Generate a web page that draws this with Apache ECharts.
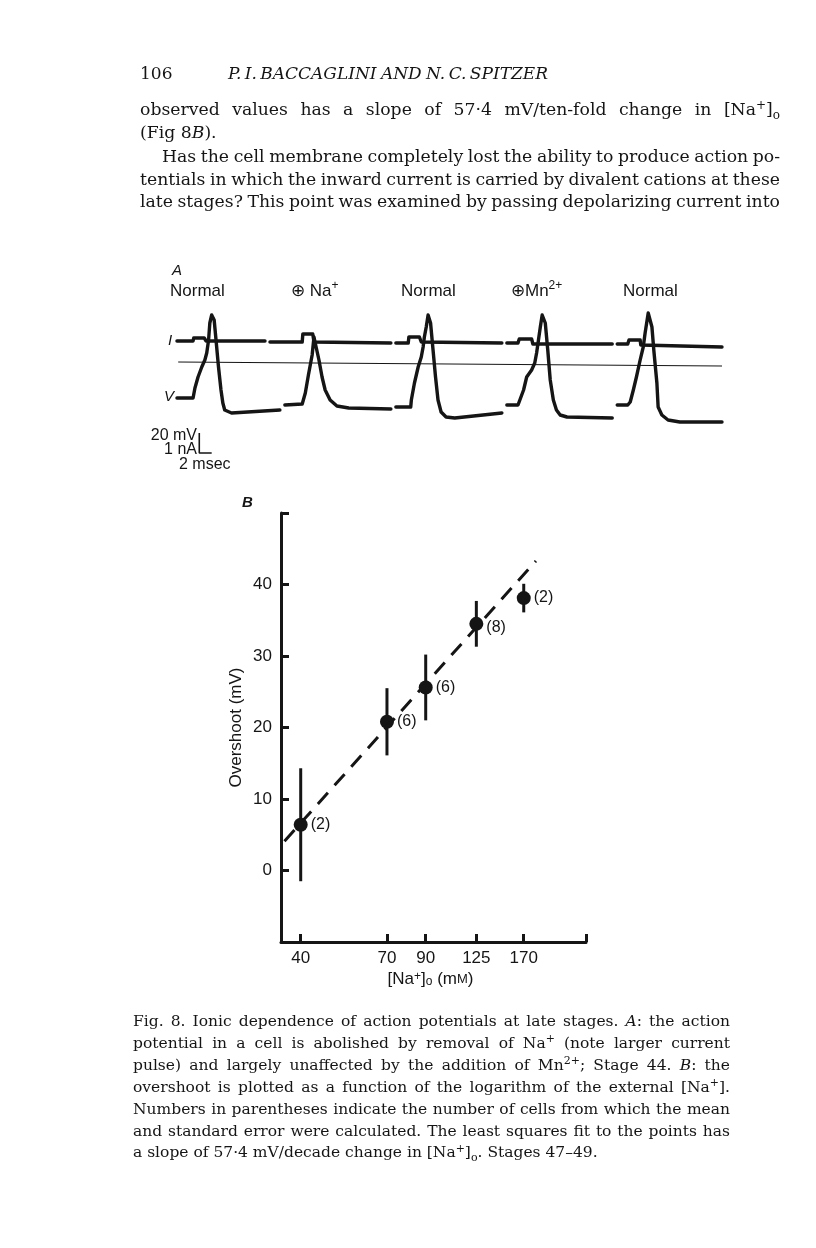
<!DOCTYPE html>
<html>
<head>
<meta charset="utf-8">
<script src="https://cdn.jsdelivr.net/npm/echarts@6/dist/echarts.min.js"></script>
<style>
  html, body { margin: 0; padding: 0; background: #fff; }
  #main { width: 816px; height: 1248px; }
</style>
</head>
<body>
<div id="main"></div>
<script>
// ---- panel B: overshoot vs external sodium ----
var naConc = [40, 70, 90, 125, 170];            // [Na+]o, mM
var overshoot = [6.4, 20.8, 25.6, 34.5, 38.1];  // mV, mean
var stdErr = [7.9, 4.7, 4.6, 3.2, 2.0];         // mV, s.e.
var nCells = [2, 6, 6, 8, 2];
var fitConc = [36, 184];                        // ends of the least squares line
var fitOvershoot = [4.1, 43.3];
var xTickConc = [40, 70, 90, 125, 170];
var yTickValues = [0, 10, 20, 30, 40];
var xRange = [35.2, 254.6];                     // mM, axis extent
var yRange = [-10, 50];

// ---- panel A: sweeps, [ms, mV] ----
var sweepLabels = ['Normal', '\u2295 Na{sup|+}', 'Normal', '\u2295Mn{sup|2+}', 'Normal'];
var currentTraces = [
  [[0.8, 21], [3.4, 21], [3.5, 24], [5.2, 24], [5.5, 21], [15.0, 21]],
  [[15.8, 20], [21.0, 20], [21.1, 28], [22.7, 28], [22.9, 20], [35.3, 19]],
  [[36.1, 19], [38.1, 19], [38.2, 25], [39.9, 25], [40.2, 20], [53.2, 19]],
  [[54.0, 19], [55.8, 19], [56.0, 23], [58.0, 23], [58.2, 18], [71.0, 18]],
  [[71.8, 18], [73.5, 18], [73.7, 22], [75.5, 22], [75.6, 17], [88.7, 15]]
];
var voltageTraces = [
  [[0.8, -36], [3.4, -36], [3.7, -26], [4.2, -15], [4.8, -5], [5.3, 2], [5.6, 9], [5.9, 22], [6.1, 39],
   [6.4, 47], [6.8, 42], [7.1, 22], [7.5, -5], [7.9, -28], [8.2, -41], [8.5, -48], [9.6, -51], [17.4, -48]],
  [[18.2, -43], [21.0, -42], [21.5, -31], [22.0, -13], [22.6, 7], [22.9, 25], [23.1, 19], [23.7, 2],
   [24.2, -15], [24.7, -28], [25.5, -38], [26.6, -44], [28.5, -46], [35.3, -47]],
  [[36.1, -45], [38.5, -45], [38.6, -38], [39.1, -21], [39.7, -5], [40.2, 5], [40.5, 15], [40.7, 25],
   [41.0, 35], [41.3, 47], [41.7, 39], [42.1, 12], [42.5, -15], [42.9, -38], [43.4, -50], [44.2, -55],
   [45.6, -56], [53.2, -51]],
  [[54.0, -43], [55.8, -43], [56.1, -41], [56.7, -28], [57.2, -15], [58.0, -8], [58.5, -1], [58.8, 9],
   [59.1, 22], [59.4, 35], [59.7, 47], [60.2, 39], [60.6, 12], [61.0, -18], [61.5, -38], [62.0, -48],
   [62.6, -53], [63.7, -55], [71.0, -56]],
  [[71.8, -43], [73.5, -43], [73.9, -40], [74.4, -28], [74.9, -15], [75.5, 2], [76.0, 15], [76.3, 29],
   [76.8, 49], [77.4, 35], [77.7, 12], [78.2, -21], [78.4, -45], [79.0, -53], [80.0, -58], [81.9, -60],
   [88.7, -60]]
];
var zeroLine = [[1.0, 0], [88.7, -4]];
var scaleBar = [[4.4, -71], [4.4, -91], [6.4, -91]];   // 20 mV / 2 msec

// ---- page text ----
var bodyLines = [
  'observed values has a slope of 57\u00b74 mV/ten-fold change in [Na{sup|+}]{sub|o}',
  '(Fig 8{it|B}).',
  'Has the cell membrane completely lost the ability to produce action po-',
  'tentials in which the inward current is carried by divalent cations at these',
  'late stages? This point was examined by passing depolarizing current into'
];
var captionLines = [
  'Fig. 8. Ionic dependence of action potentials at late stages. {it|A}: the action',
  'potential in a cell is abolished by removal of Na{sup|+} (note larger current',
  'pulse) and largely unaffected by the addition of Mn{sup|2+}; Stage 44. {it|B}: the',
  'overshoot is plotted as a function of the logarithm of the external [Na{sup|+}].',
  'Numbers in parentheses indicate the number of cells from which the mean',
  'and standard error were calculated. The least squares fit to the points has',
  'a slope of 57\u00b74 mV/decade change in [Na{sup|+}]{sub|o}. Stages 47\u201349.'
];

var INK = '#151515';
var SERIF = 'DejaVu Serif';
var SANS = 'Liberation Sans';

// text helpers: measure words, place them one by one so lines can be justified
var ctx = document.createElement('canvas').getContext('2d');
function parts(str) {
  var re = /\{(\w+)\|([^}]*)\}/g, out = [], last = 0, m;
  while ((m = re.exec(str))) {
    if (m.index > last) out.push(['', str.slice(last, m.index)]);
    out.push([m[1], m[2]]);
    last = re.lastIndex;
  }
  if (last < str.length) out.push(['', str.slice(last)]);
  return out;
}
function cssFont(kind, fs, family, o) {
  var small = kind === 'sup' || kind === 'sub';
  var it = o.italic || kind === 'it';
  return (it ? 'italic ' : '') + (o.bold ? 'bold ' : '') +
    (small ? Math.round(fs * 0.68) : fs) + 'px "' + family + '"';
}
function wordWidth(w, fs, family, o) {
  return parts(w).reduce(function (s, p) {
    ctx.font = cssFont(p[0], fs, family, o);
    return s + ctx.measureText(p[1]).width;
  }, 0);
}
function textEl(str, x, y, fs, family, o) {
  o = o || {};
  var s = Math.round(fs * 0.68), lh = Math.round(fs * 1.3);
  var fst = o.italic ? 'italic' : 'normal', fw = o.bold ? 'bold' : 'normal';
  return {
    type: 'text', x: x, y: y, z: 50,
    style: {
      text: str, fill: INK, fontSize: fs, fontFamily: family, fontStyle: fst, fontWeight: fw,
      lineHeight: lh, align: o.align || 'left', verticalAlign: 'middle',
      rich: {
        sup: { fontSize: s, lineHeight: s, verticalAlign: 'top', fontFamily: family, fontStyle: fst, fontWeight: fw, fill: INK },
        sub: { fontSize: s, lineHeight: s, verticalAlign: 'bottom', fontFamily: family, fontStyle: fst, fontWeight: fw, fill: INK },
        it: { fontSize: fs, lineHeight: lh, fontFamily: family, fontStyle: 'italic', fontWeight: fw, fill: INK }
      }
    }
  };
}
function typeset(str, left, y, width, fs, family, justify, o) {
  o = o || {};
  var words = str.split(' '), f = fs, widths, total;
  for (;;) {
    widths = words.map(function (w) { return wordWidth(w, f, family, o); });
    total = widths.reduce(function (a, b) { return a + b; }, 0);
    if (!justify || total + (words.length - 1) * f * 0.2 <= width || f < 8) break;
    f -= 0.25;
  }
  ctx.font = cssFont('', f, family, o);
  var gap = justify && words.length > 1 ? (width - total) / (words.length - 1) : ctx.measureText(' ').width;
  var x = left, els = [];
  words.forEach(function (w, i) {
    els.push(textEl(w, x, y, f, family, o));
    x += widths[i] + gap;
  });
  return els;
}

var texts = [];
texts.push(textEl('106', 140, 75, 17, SERIF));
texts = texts.concat(typeset('P.\u2009I.\u2009BACCAGLINI AND N.\u2009C.\u2009SPITZER', 228, 75, 320, 17.5, SERIF, true, { italic: true }));

var bodyY = [111, 134, 158, 181, 203];
var bodyLeft = [140, 140, 162, 140, 140];
bodyLines.forEach(function (l, i) {
  texts = texts.concat(typeset(l, bodyLeft[i], bodyY[i], 780 - bodyLeft[i], 17.25, SERIF, i !== 1));
});
captionLines.forEach(function (l, i) {
  texts = texts.concat(typeset(l, 133, 1022 + i * 21.9, 597, 15.5, SERIF, i !== captionLines.length - 1));
});

// panel A lettering
var sweepLabelX = [170, 291, 401, 511, 623];
texts.push(textEl('A', 172, 271, 15, SANS, { italic: true }));
sweepLabels.forEach(function (l, i) { texts.push(textEl(l, sweepLabelX[i], 291, 17, SANS)); });
texts.push(textEl('I', 168, 341, 15, SANS, { italic: true }));
texts.push(textEl('V', 164, 397, 15, SANS, { italic: true }));
texts.push(textEl('20 mV', 197, 436, 16, SANS, { align: 'right' }));
texts.push(textEl('1 nA', 197, 450, 16, SANS, { align: 'right' }));
texts.push(textEl('2 msec', 179, 465, 16, SANS));
texts.push(textEl('B', 242, 503, 15, SANS, { italic: true, bold: true }));

// ---- chart ----
var chart = echarts.init(document.getElementById('main'));
var lg = function (v) { return Math.log10(v); };

var traceSeries = [];
currentTraces.concat(voltageTraces).forEach(function (d) {
  traceSeries.push({
    type: 'line', xAxisIndex: 0, yAxisIndex: 0, data: d, symbol: 'none', silent: true,
    lineStyle: { color: INK, width: 3.4, join: 'round', cap: 'round' }
  });
});
traceSeries.push({
  type: 'line', xAxisIndex: 0, yAxisIndex: 0, data: zeroLine, symbol: 'none', silent: true,
  lineStyle: { color: INK, width: 1.2 }
});
traceSeries.push({
  type: 'line', xAxisIndex: 0, yAxisIndex: 0, data: scaleBar, symbol: 'none', silent: true,
  lineStyle: { color: INK, width: 1.6 }
});

var axisFont = { color: INK, fontSize: 17, fontFamily: SANS };

var option = {
  animation: false,
  backgroundColor: '#fff',
  graphic: texts,
  grid: [
    { left: 172, top: 300, width: 550, height: 162 },
    { left: 281, top: 513, width: 305, height: 429 }
  ],
  xAxis: [
    { gridIndex: 0, type: 'value', min: 0, max: 88.7, show: false },
    {
      gridIndex: 1, type: 'value', min: lg(xRange[0]), max: lg(xRange[1]),
      name: '[Na{sup|+}]{sub|o} (m{sc|M})', nameLocation: 'middle', nameGap: 29,
      nameTextStyle: {
        color: INK, fontSize: 17, fontFamily: SANS, padding: [0, 6, 0, 0],
        rich: {
          sup: { fontSize: 12, verticalAlign: 'top', lineHeight: 12, fontFamily: SANS, color: INK },
          sub: { fontSize: 12, verticalAlign: 'bottom', lineHeight: 12, fontFamily: SANS, color: INK },
          sc: { fontSize: 13, fontFamily: SANS, color: INK }
        }
      },
      axisLine: { onZero: false, lineStyle: { color: INK, width: 3 } },
      axisTick: {
        inside: true, length: 8, lineStyle: { color: INK, width: 3 },
        customValues: xTickConc.map(lg).concat([lg(xRange[1])])
      },
      axisLabel: Object.assign({
        margin: 8,
        customValues: xTickConc.map(lg),
        formatter: function (v) { return String(Math.round(Math.pow(10, v))); }
      }, axisFont),
      splitLine: { show: false }
    }
  ],
  yAxis: [
    { gridIndex: 0, type: 'value', min: -100, max: 62, show: false },
    {
      gridIndex: 1, type: 'value', min: yRange[0], max: yRange[1], interval: 10,
      name: 'Overshoot (mV)', nameLocation: 'middle', nameGap: 36,
      nameTextStyle: { color: INK, fontSize: 17, fontFamily: SANS },
      axisLine: { onZero: false, lineStyle: { color: INK, width: 3 } },
      axisTick: {
        inside: true, length: 8, lineStyle: { color: INK, width: 3 },
        customValues: yTickValues.concat([yRange[1]])
      },
      axisLabel: Object.assign({ margin: 9, customValues: yTickValues }, axisFont),
      splitLine: { show: false }
    }
  ],
  series: traceSeries.concat([
    {
      type: 'line', xAxisIndex: 1, yAxisIndex: 1, symbol: 'none', silent: true,
      data: fitConc.map(function (c, i) { return [lg(c), fitOvershoot[i]]; }),
      lineStyle: { color: INK, width: 3, type: [15, 10] }
    },
    {
      type: 'custom', xAxisIndex: 1, yAxisIndex: 1, silent: true,
      data: naConc.map(function (c, i) { return [lg(c), overshoot[i] - stdErr[i], overshoot[i] + stdErr[i]]; }),
      encode: { x: 0, y: [1, 2] },
      renderItem: function (params, api) {
        var lo = api.coord([api.value(0), api.value(1)]);
        var hi = api.coord([api.value(0), api.value(2)]);
        return {
          type: 'line',
          shape: { x1: lo[0], y1: lo[1], x2: hi[0], y2: hi[1] },
          style: { stroke: INK, lineWidth: 3 }
        };
      }
    },
    {
      type: 'scatter', xAxisIndex: 1, yAxisIndex: 1, symbolSize: 14, silent: true,
      itemStyle: { color: INK, opacity: 1 },
      label: { show: true, position: 'right', distance: 3, color: INK, fontSize: 16, fontFamily: SANS },
      data: naConc.map(function (c, i) {
        return {
          value: [lg(c), overshoot[i]],
          label: { formatter: '(' + nCells[i] + ')', offset: i === 3 ? [0, 4] : [0, 0] }
        };
      })
    }
  ])
};

chart.setOption(option);
</script>
</body>
</html>
